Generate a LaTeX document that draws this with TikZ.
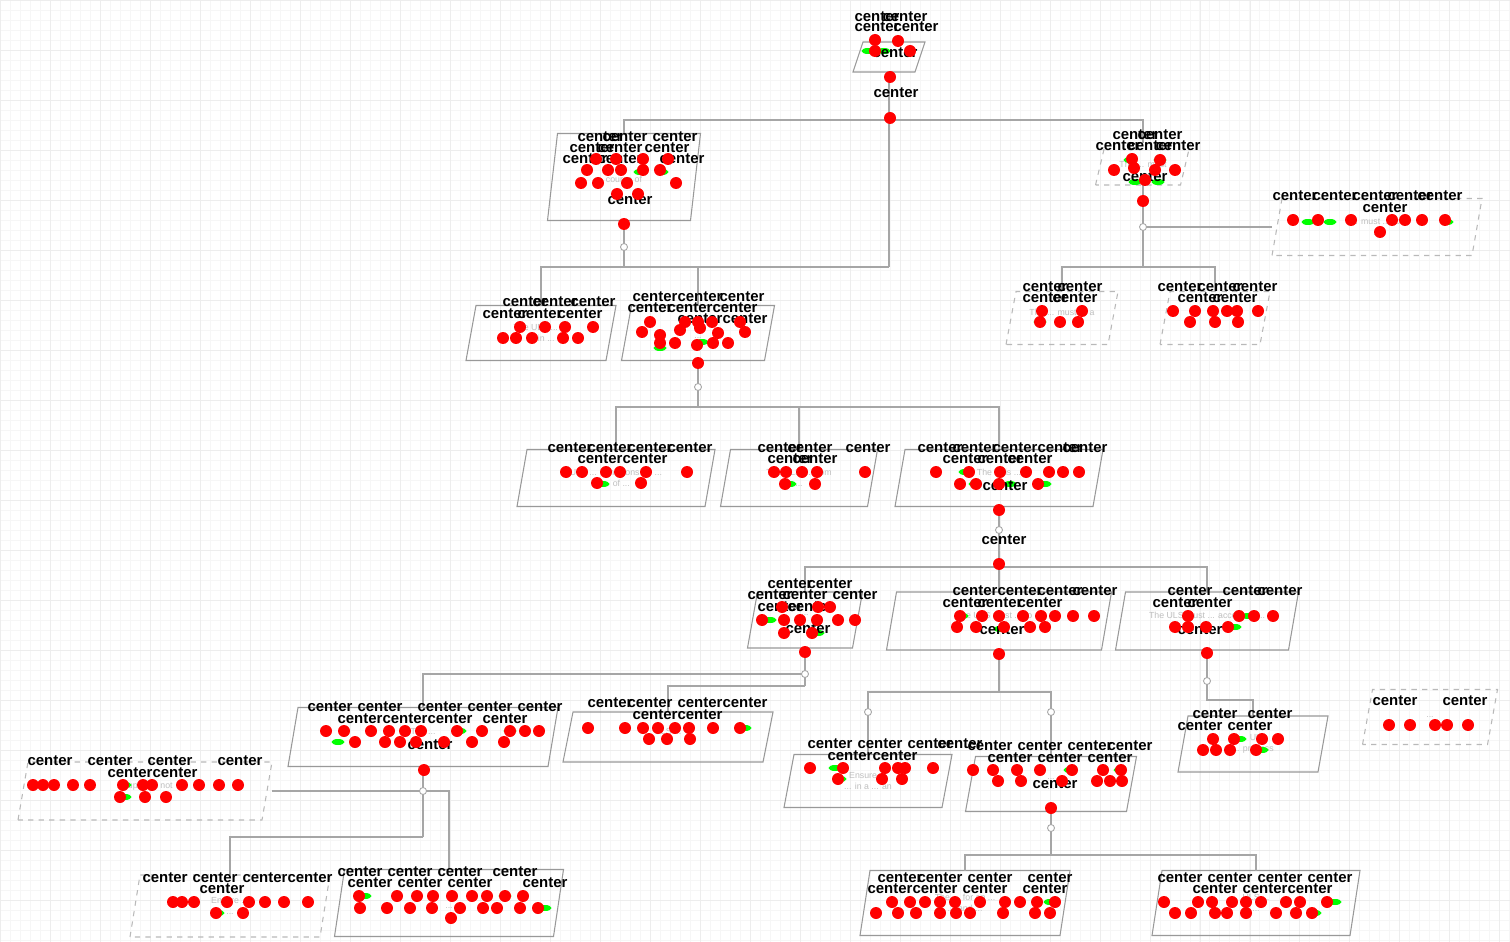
\documentclass[tikz,border=0pt]{standalone}
\usepackage{fontspec}
\setmainfont{Liberation Sans}

\tikzset{
  frame/.style={draw=gray!80, line width=0.6pt},
  softframe/.style={draw=gray!55, line width=0.6pt, dashed},
  box/.style 2 args={rectangle, minimum width=#1*0.02cm, minimum height=#2*0.02cm,
    inner sep=0pt, outer sep=0pt, font=\fontsize{5}{6}\selectfont, text=gray!50, align=center},
  goal/.style 2 args={box={#1}{#2}, append after command={\pgfextra{
    \draw[frame] (\tikzlastnode.south west) -- ([xshift=0.2cm]\tikzlastnode.north west)
      -- (\tikzlastnode.north east) -- ([xshift=-0.2cm]\tikzlastnode.south east) -- cycle;}}},
  softgoal/.style 2 args={box={#1}{#2}, append after command={\pgfextra{
    \draw[softframe] (\tikzlastnode.south west) -- ([xshift=0.2cm]\tikzlastnode.north west)
      -- (\tikzlastnode.north east) -- ([xshift=-0.2cm]\tikzlastnode.south east) -- cycle;}}},
  link/.style={draw=gray!70, line width=0.6pt},
  junction/.style={draw=gray!70, line width=0.5pt, fill=white},
  reddot/.style={fill=red},
  greenspot/.style={fill=green},
  tag/.style={font=\fontsize{8.5}{9}\selectfont\bfseries, text=black, inner sep=0pt}
}

\newcommand{\redspots}[1]{\foreach \x/\y in {#1} \fill[reddot] (\x,\y) circle[radius=0.12cm];}
\newcommand{\greenspots}[1]{\foreach \x/\y in {#1} \fill[greenspot] (\x,\y) ellipse[x radius=0.13cm, y radius=0.06cm];}
\newcommand{\centertags}[2]{\foreach \x/\y [count=\k] in {#2} \node[tag] (#1-\k) at (\x,\y) {center};}

\begin{document}
\begin{tikzpicture}[x=0.02cm, y=-0.02cm]
  \useasboundingbox (0,0) rectangle (1510,942);
  \fill[white] (0,0) rectangle (1510,942);
  % grid
  \draw[gray!7, line width=0.3pt, step=0.2cm] (0,0) grid (1510,942);
  \draw[gray!14, line width=0.3pt, step=1cm] (0,0) grid (1510,942);

  % goals
  \node (root) [goal={72}{30}] at (889,57) {};
  \node (A) [goal={153}{87}] at (624,177) {\\ course of};
  \node (B) [softgoal={95}{42}] at (1143,164) {The ... must};
  \node (C) [softgoal={210}{57}] at (1377,227) {... must ... for\\ ...};
  \node (D1) [softgoal={112}{53}] at (1062,318) {The ... must ... a\\ ...};
  \node (D2) [softgoal={110}{53}] at (1215,318) {...\\ ...};
  \node (E1) [goal={150}{55}] at (541,333) {The ULS ... of\\ ... in ...};
  \node (E2) [goal={153}{55}] at (698,333) {...\\ ...};
  \node (F1) [goal={198}{57}] at (616,478) {ULS ... conditions for ...\\ ... of ...};
  \node (F2) [goal={157}{57}] at (799,478) {The ULS ... from\\ ...};
  \node (F3) [goal={208}{57}] at (999,478) {The ... is ...\\ ...};
  \node (G1) [goal={115}{56}] at (805,620) {...\\ ...};
  \node (G2) [goal={225}{58}] at (999,621) {The ULS must ... to ...\\ ...};
  \node (G3) [goal={183}{58}] at (1207,621) {The ULS must ... access to ...\\ ...};
  \node (H1) [goal={270}{59}] at (423,737) {The ...\\ ...};
  \node (H2) [goal={210}{50}] at (668,737) {ULS ...\\ ...};
  \node (L) [softgoal={254}{58}] at (145,791) {... up to ... not\\ ...};
  \node (I1) [goal={168}{53}] at (868,781) {Ensure ...\\ ... in a ... an};
  \node (I2) [goal={171}{55}] at (1051,784) {...\\ ...};
  \node (J1) [goal={150}{56}] at (1253,744) {... ULS\\ ... process};
  \node (J2) [softgoal={135}{55}] at (1430,717) {...};
  \node (K1) [goal={210}{65}] at (965,903) {The ... for an ...\\ ... and ...};
  \node (K2) [goal={208}{65}] at (1256,903) {ULS ...\\ ...};
  \node (M1) [softgoal={200}{62}] at (230,906) {Ensure ...\\ ...};
  \node (M2) [goal={229}{67}] at (449,903) {...\\ ...};

  % junction points
  \coordinate (j0) at (889,120);
  \coordinate (j0b) at (889,267);
  \coordinate (c1) at (624,247);
  \coordinate (j1) at (624,267);
  \coordinate (c2) at (1143,227);
  \coordinate (j2) at (1143,267);
  \coordinate (c3) at (698,387);
  \coordinate (j3) at (698,407);
  \coordinate (c4) at (999,530);
  \coordinate (j4) at (999,567);
  \coordinate (c5) at (805,674);
  \coordinate (j5) at (805,686);
  \coordinate (j6) at (999,692);
  \coordinate (c6a) at (868,712);
  \coordinate (c6b) at (1051,712);
  \coordinate (c7) at (1207,681);
  \coordinate (j7) at (1207,700);
  \coordinate (c8) at (423,791);
  \coordinate (j8) at (423,837);
  \coordinate (c9) at (1051,828);
  \coordinate (j9) at (1051,855);

  % connectors
  \draw[link] (root) -- (j0);
  \draw[link] (A) |- (j0) -| (B);
  \draw[link] (j0) -- (j0b);
  \draw[link] (A) -- (j1);
  \draw[link] (E1) |- (j1) -| (E2);
  \draw[link] (j1) -- (j0b);
  \draw[link] (B) -- (j2);
  \draw[link] (c2) -- (C);
  \draw[link] (D1) |- (j2) -| (D2);
  \draw[link] (E2) -- (j3);
  \draw[link] (F1) |- (j3) -| (F3);
  \draw[link] (j3) -| (F2);
  \draw[link] (F3) -- (j4);
  \draw[link] (G1) |- (j4) -| (G3);
  \draw[link] (j4) -- (G2);
  \draw[link] (G1) -- (j5);
  \draw[link] (c5) -| (H1);
  \draw[link] (j5) -| (H2);
  \draw[link] (G2) -- (j6);
  \draw[link] (I1) |- (j6) -| (I2);
  \draw[link] (G3) -- (j7) -| (J1);
  \draw[link] (H1) -- (j8);
  \draw[link] (c8) -- (L);
  \draw[link] (c8) -| (M2);
  \draw[link] (j8) -| (M1);
  \draw[link] (I2) -- (j9);
  \draw[link] (K1) |- (j9) -| (K2);

  \foreach \c in {c1,c2,c3,c4,c5,c6a,c6b,c7,c8,c9}
    \draw[junction] (\c) circle[radius=0.07cm];

  % green marks
  \greenspots{868/51, 884/51, 640/172, 662/172, 1130/160, 1160/160, 1135/182, 1158/182,
    1308/222, 1330/222, 1447/222, 1040/322, 660/348, 702/342, 603/484, 790/484,
    965/472, 975/484, 1010/484, 1045/484, 770/620, 818/633, 962/616, 1000/629,
    1248/616, 1235/627, 338/742, 460/731, 510/731, 745/728, 125/785, 125/797,
    835/768, 840/779, 1070/770, 1120/770, 1240/739, 1262/750, 218/913, 365/896,
    505/896, 545/908, 1335/902, 1315/913, 1050/902}

  % labels
  \centertags{r}{877/17, 905/17, 877/27, 916/27, 895/53, 896/93}
  \centertags{a}{600/137, 625/137, 675/137, 592/148, 620/148, 667/148,
    585/159, 620/159, 682/159, 630/200}
  \centertags{b}{1135/135, 1160/135, 1118/146, 1150/146, 1178/146, 1145/177}
  \centertags{c}{1295/196, 1335/196, 1375/196, 1410/196, 1440/196, 1385/208}
  \centertags{d1}{1045/287, 1080/287, 1045/298, 1075/298}
  \centertags{d2}{1180/287, 1220/287, 1255/287, 1200/298, 1235/298}
  \centertags{e1}{525/302, 555/302, 593/302, 505/314, 540/314, 580/314}
  \centertags{e2}{655/297, 700/297, 742/297, 650/308, 690/308, 735/308, 700/319, 745/319}
  \centertags{f1}{570/448, 610/448, 650/448, 690/448, 600/459, 645/459}
  \centertags{f2}{780/448, 810/448, 868/448, 790/459, 815/459}
  \centertags{f3}{940/448, 975/448, 1015/448, 1060/448, 1085/448, 965/459, 1000/459,
    1030/459, 1005/486, 1004/540}
  \centertags{g1}{790/584, 830/584, 770/595, 805/595, 855/595, 780/607, 810/607, 808/629}
  \centertags{g2}{975/591, 1020/591, 1060/591, 1095/591, 965/603, 1000/603, 1040/603, 1002/630}
  \centertags{g3}{1190/591, 1245/591, 1280/591, 1175/603, 1210/603, 1200/630}
  \centertags{h1}{330/707, 380/707, 440/707, 490/707, 540/707, 360/719, 405/719,
    450/719, 505/719, 430/745}
  \centertags{h2}{610/703, 650/703, 700/703, 745/703, 655/715, 700/715}
  \centertags{l}{50/761, 110/761, 170/761, 240/761, 130/773, 175/773}
  \centertags{i1}{830/744, 880/744, 930/744, 960/744, 850/756, 895/756}
  \centertags{i2}{990/746, 1040/746, 1090/746, 1130/746, 1010/758, 1060/758, 1110/758, 1055/784}
  \centertags{j1}{1215/714, 1270/714, 1200/726, 1250/726}
  \centertags{j2}{1395/701, 1465/701}
  \centertags{k1}{900/878, 940/878, 990/878, 1050/878, 890/889, 935/889, 985/889, 1045/889}
  \centertags{k2}{1180/878, 1230/878, 1280/878, 1330/878, 1215/889, 1265/889, 1310/889}
  \centertags{m1}{165/878, 215/878, 265/878, 310/878, 222/889}
  \centertags{m2}{360/872, 410/872, 460/872, 515/872, 370/883, 420/883, 470/883, 545/883}

  % red spots
  \redspots{875/40, 898/41, 875/51, 910/51, 890/77, 890/118}
  \redspots{596/159, 616/159, 643/159, 668/159, 587/170, 608/170, 621/170, 643/170,
    660/170, 581/183, 598/183, 627/183, 676/183, 617/194, 638/194, 624/224}
  \redspots{1132/159, 1160/160, 1114/170, 1134/168, 1155/170, 1175/170, 1145/180, 1143/201}
  \redspots{1293/220, 1318/220, 1351/220, 1392/220, 1405/220, 1422/220, 1445/220, 1380/232}
  \redspots{1042/311, 1082/311, 1040/322, 1060/322, 1078/322}
  \redspots{1173/311, 1195/311, 1213/311, 1227/311, 1237/311, 1258/311, 1190/322,
    1215/322, 1238/322}
  \redspots{520/327, 545/327, 565/327, 593/327, 503/338, 516/338, 532/338, 563/338, 578/338}
  \redspots{650/322, 685/322, 698/322, 712/322, 740/322, 642/332, 660/335, 680/330,
    700/328, 718/333, 745/332, 660/343, 675/343, 697/345, 713/343, 728/343, 698/363}
  \redspots{566/472, 582/472, 606/472, 620/472, 646/472, 687/472, 597/483, 641/483}
  \redspots{774/472, 786/472, 802/472, 817/472, 865/472, 785/484, 815/484}
  \redspots{936/472, 969/472, 1000/472, 1026/472, 1049/472, 1063/472, 1079/472,
    960/484, 976/484, 999/484, 1038/484, 999/510, 999/564}
  \redspots{782/607, 818/607, 830/607, 762/620, 784/620, 800/620, 817/620, 838/620,
    855/620, 784/633, 812/633, 805/652}
  \redspots{960/616, 982/616, 999/616, 1023/616, 1041/616, 1055/616, 1073/616, 1094/616,
    957/627, 976/627, 1004/627, 1030/627, 1045/627, 999/654}
  \redspots{1188/616, 1239/616, 1254/616, 1273/616, 1175/627, 1188/627, 1206/627,
    1228/627, 1207/653}
  \redspots{326/731, 344/731, 371/731, 389/731, 405/731, 421/731, 457/731, 482/731,
    510/731, 525/731, 539/731, 355/742, 385/742, 400/742, 416/742, 444/742, 472/742,
    504/742, 424/770}
  \redspots{588/728, 625/728, 643/728, 658/728, 675/728, 689/728, 713/728, 740/728,
    649/739, 667/739, 690/739}
  \redspots{33/785, 43/785, 54/785, 73/785, 90/785, 123/785, 143/785, 152/785, 182/785,
    199/785, 219/785, 238/785, 120/797, 145/797, 166/797}
  \redspots{810/768, 843/768, 885/768, 898/768, 905/768, 933/768, 838/779, 882/779, 902/779}
  \redspots{973/770, 993/770, 1017/770, 1040/770, 1072/770, 1103/770, 1121/770,
    998/781, 1021/781, 1062/781, 1097/781, 1110/781, 1122/781, 1051/808}
  \redspots{1213/739, 1234/739, 1262/739, 1278/739, 1203/750, 1216/750, 1230/750, 1256/750}
  \redspots{1389/725, 1410/725, 1435/725, 1447/725, 1468/725}
  \redspots{892/902, 910/902, 925/902, 940/902, 955/902, 980/902, 1005/902, 1020/902,
    1037/902, 1055/902, 876/913, 898/913, 916/913, 940/913, 956/913, 970/913,
    1003/913, 1035/913, 1050/913}
  \redspots{1164/902, 1198/902, 1212/902, 1232/902, 1246/902, 1261/902, 1286/902,
    1300/902, 1327/902, 1175/913, 1191/913, 1215/913, 1227/913, 1246/913, 1276/913,
    1296/913, 1312/913}
  \redspots{173/902, 182/902, 194/902, 227/902, 249/902, 265/902, 284/902, 308/902,
    216/913, 243/913}
  \redspots{359/896, 397/896, 417/896, 433/896, 452/896, 472/896, 487/896, 505/896,
    523/896, 360/908, 387/908, 410/908, 432/908, 460/908, 483/908, 497/908, 520/908,
    538/908, 451/918}
\end{tikzpicture}
\end{document}
